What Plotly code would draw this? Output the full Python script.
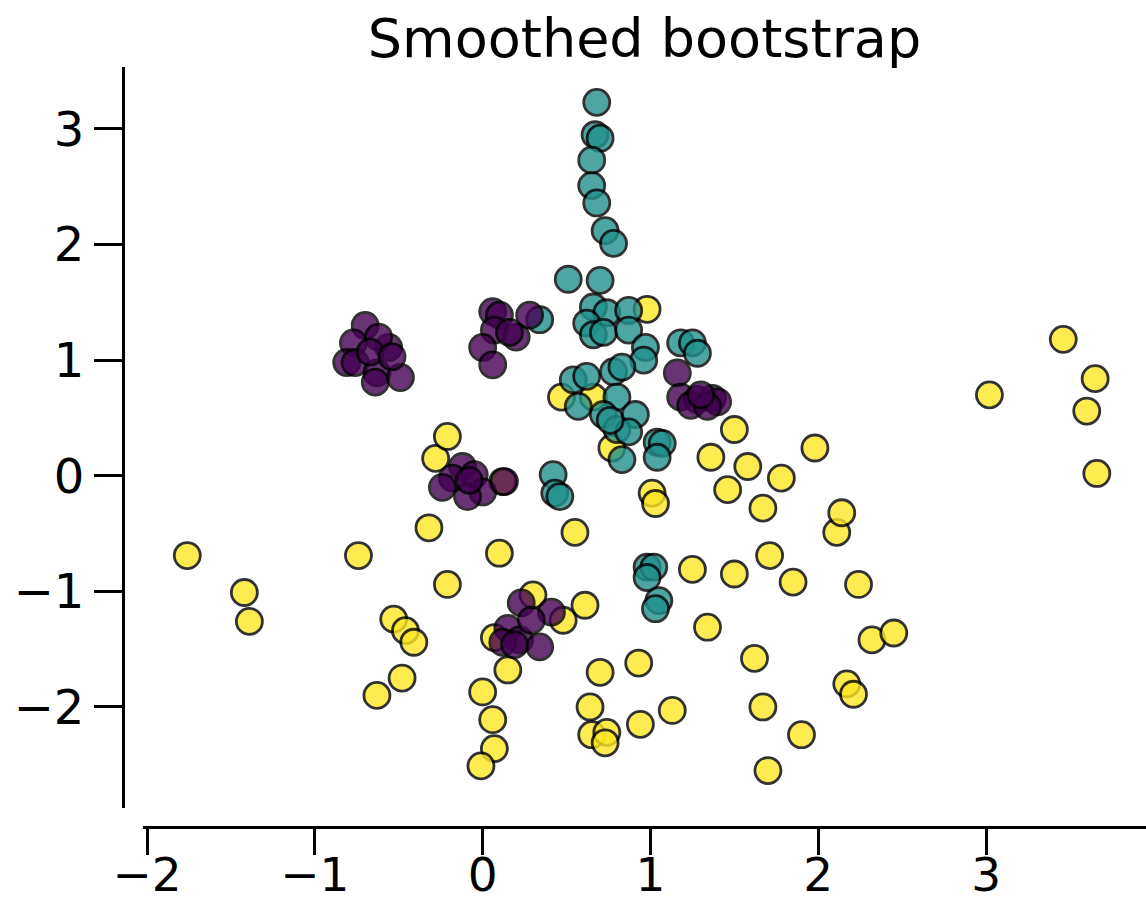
import plotly.graph_objects as go

# Class 0 (purple)
x_c0 = [-0.70, -0.77, -0.81, -0.76, -0.56, -0.62, -0.63, -0.49, -0.64, -0.67, -0.54,
        0.06, 0.10, 0.28, 0.07, 0.20, 0.00, 0.06, 0.16,
        -0.12, -0.18, -0.24, -0.05, 0.00, 0.13, -0.09, -0.08,
        0.23, 0.41, 0.15, 0.22, 0.34, 0.12, 0.29, 0.19,
        1.16, 1.18, 1.28, 1.37, 1.40, 1.24, 1.34, 1.30]
y_c0 = [1.30, 1.15, 0.98, 0.98, 1.11, 1.20, 0.89, 0.85, 0.81, 1.07, 1.03,
        1.42, 1.39, 1.39, 1.26, 1.20, 1.11, 0.96, 1.24,
        0.08, -0.02, -0.10, 0.01, -0.14, -0.05, -0.18, -0.04,
        -1.10, -1.18, -1.32, -1.42, -1.48, -1.44, -1.25, -1.46,
        0.89, 0.68, 0.66, 0.67, 0.64, 0.61, 0.60, 0.70]

# Class 1 (teal)
x_c1 = [0.68, 0.67, 0.70, 0.65, 0.65, 0.68, 0.73, 0.78, 0.51, 0.70,
        0.66, 0.74, 0.87, 0.62, 0.66, 0.72, 0.87, 0.97, 0.96, 1.18, 1.25, 1.28, 0.34,
        0.54, 0.62, 0.78, 0.83, 0.57, 0.80, 0.72, 0.91, 0.80, 0.87, 1.04, 1.07, 1.04,
        0.83, 0.76, 0.42, 0.43, 0.46,
        0.98, 1.02, 0.98, 1.05, 1.03]
y_c1 = [3.23, 2.95, 2.92, 2.73, 2.51, 2.36, 2.12, 2.01, 1.70, 1.69,
        1.46, 1.41, 1.43, 1.32, 1.22, 1.24, 1.26, 1.11, 1.00, 1.15, 1.15, 1.06, 1.35,
        0.83, 0.86, 0.90, 0.94, 0.60, 0.68, 0.53, 0.53, 0.40, 0.38, 0.29, 0.28, 0.16,
        0.14, 0.48, 0.01, -0.15, -0.18,
        -0.79, -0.79, -0.88, -1.08, -1.15]

# Class 2 (yellow)
x_c2 = [-1.76, -1.42, -1.39, -0.74, -0.63, -0.53, -0.46, -0.41, -0.48, -0.32,
        -0.28, -0.21, -0.21, 0.10, 0.00, 0.06, 0.07, -0.01, 0.15, 0.30,
        0.48, 0.07, 0.61, 0.55, 0.70, 0.64, 0.65, 0.74, 0.73, 0.93,
        0.94, 1.13, 1.01, 1.03, 1.25, 1.34, 1.36, 1.50, 1.46, 1.50,
        1.58, 1.62, 1.67, 1.67, 1.71, 1.70, 1.78, 1.85, 1.90, 1.98,
        2.11, 2.14, 2.24, 2.17, 2.21, 2.32, 2.45, 3.02, 3.46, 3.65,
        3.60, 3.66, 0.98, 0.47, 0.66, 0.77, 0.12]
y_c2 = [-0.69, -1.01, -1.26, -0.69, -1.90, -1.24, -1.34, -1.44, -1.75, -0.45,
        0.15, 0.34, -0.94, -0.67, -1.87, -2.11, -2.36, -2.51, -1.68, -1.03,
        -1.25, -1.40, -1.12, -0.49, -1.70, -2.00, -2.24, -2.22, -2.31, -1.62,
        -2.15, -2.03, -0.15, -0.24, -0.81, -1.31, 0.16, 0.40, -0.12, -0.85,
        0.08, -1.58, -2.00, -0.28, -0.69, -2.55, -0.02, -0.92, -2.24, 0.24,
        -0.49, -0.32, -0.94, -1.80, -1.89, -1.42, -1.36, 0.70, 1.18, 0.84,
        0.56, 0.02, 1.44, 0.68, 0.68, 0.24, -0.05]

colors = {"c0": "#440154", "c1": "#21918c", "c2": "#fde725"}

fig = go.Figure()
for xs, ys, key in [(x_c2, y_c2, "c2"), (x_c1, y_c1, "c1"), (x_c0, y_c0, "c0")]:
    fig.add_trace(go.Scatter(
        x=xs, y=ys, mode="markers", showlegend=False,
        marker=dict(size=26, color=colors[key], opacity=0.8,
                    line=dict(color="black", width=2.8)),
    ))

W, H = 1146, 906
ml, mr, mt, mb = 123, 0, 67, 79
pw, ph = W - ml - mr, H - mt - mb

fig.update_layout(
    width=W, height=H,
    margin=dict(l=ml, r=mr, t=mt, b=mb, pad=0, autoexpand=False),
    paper_bgcolor="white", plot_bgcolor="white",
    font=dict(family="DejaVu Sans", color="black"),
    title=dict(text="Smoothed bootstrap", x=(143 + 1146) / 2 / W, xanchor="center",
               xref="container", yref="container", y=1 - 38 / H, yanchor="middle",
               font=dict(size=54, color="black")),
    xaxis=dict(domain=[20 / pw, 1], range=[-2.024, 3.953], anchor="free", position=0,
               automargin=False, ticklabelstandoff=-20,
               showgrid=False, zeroline=False, showline=True, linecolor="black", linewidth=3,
               ticks="outside", ticklen=26, tickwidth=3, tickcolor="black",
               tickvals=[-2, -1, 0, 1, 2, 3], tickfont=dict(size=47, color="black")),
    yaxis=dict(domain=[19 / ph, 1], range=[-2.874, 3.536], anchor="free", position=0,
               automargin=False,
               showgrid=False, zeroline=False, showline=True, linecolor="black", linewidth=3,
               ticks="outside", ticklen=28, tickwidth=3, tickcolor="black",
               tickvals=[-2, -1, 0, 1, 2, 3], tickfont=dict(size=48, color="black")),
)

fig.write_html("out.html")
